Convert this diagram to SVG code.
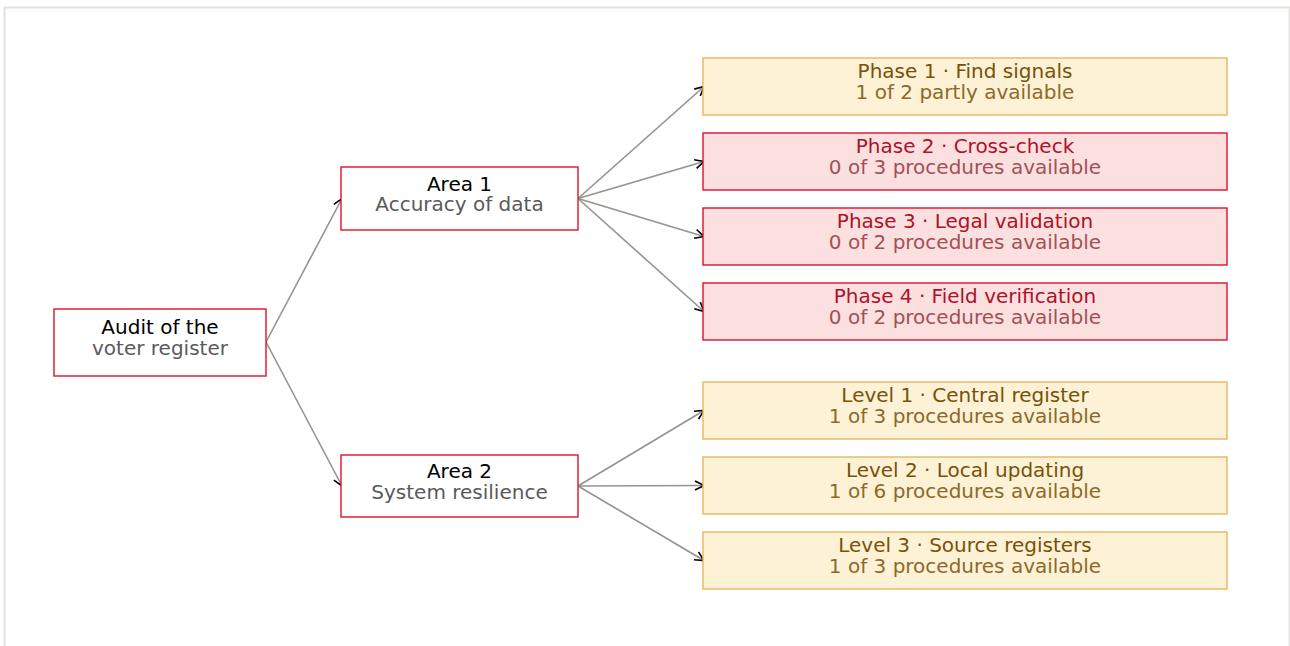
<svg xmlns="http://www.w3.org/2000/svg" width="1290" height="646" viewBox="0 0 1290 646">
<style>
text{font-family:"DejaVu Sans",sans-serif;font-size:20px;text-anchor:middle}
.n{fill:#fff;stroke:#e0102e;stroke-width:1.4}
.r{fill:#fbe0df;stroke:#e0102e;stroke-width:1.4}
.y{fill:#fdf1d6;stroke:#e6b75e;stroke-width:1.4}
.t0{fill:#000}.s0{fill:#5a5a5a}
.tr{fill:#b0102a}.sr{fill:#a35058}
.ty{fill:#7a5206}.sy{fill:#8c6a2a}
.e{fill:none;stroke:#94938c;stroke-width:1.6;marker-end:url(#a)}
</style>
<defs>
<marker id="a" viewBox="0 0 12 12" refX="11" refY="6" markerWidth="12" markerHeight="12" markerUnits="userSpaceOnUse" orient="auto">
<path d="M2,1.5 L11,6 L2,10.5" fill="none" stroke="#000" stroke-width="1.6"/>
</marker>
</defs>
<rect x="4.5" y="7.5" width="1285" height="660" fill="#fff" stroke="#e2e2de" stroke-width="2"/>
<g id="edges">
<line class="e" x1="266" y1="342" x2="342" y2="198.5"/>
<line class="e" x1="266" y1="342" x2="342" y2="486"/>
<line class="e" x1="578" y1="198.5" x2="704" y2="86.5"/>
<line class="e" x1="578" y1="198.5" x2="704" y2="161.5"/>
<line class="e" x1="578" y1="198.5" x2="704" y2="236.5"/>
<line class="e" x1="578" y1="198.5" x2="704" y2="311.5"/>
<line class="e" x1="578" y1="486" x2="704" y2="410.5"/>
<line class="e" x1="578" y1="486" x2="704" y2="485.5"/>
<line class="e" x1="578" y1="486" x2="704" y2="560.5"/>
</g>
<g id="root"><rect class="n" x="54" y="309" width="212" height="67"/><text class="t0" x="160" y="334">Audit of the</text><text class="s0" x="160" y="355">voter register</text></g>
<g id="area1"><rect class="n" x="341" y="167" width="237" height="63"/><text class="t0" x="459.5" y="190.5">Area 1</text><text class="s0" x="459.5" y="211">Accuracy of data</text></g>
<g id="area2"><rect class="n" x="341" y="455" width="237" height="62"/><text class="t0" x="459.5" y="478">Area 2</text><text class="s0" x="459.5" y="498.5">System resilience</text></g>
<g id="phase1"><rect class="y" x="703" y="58" width="524" height="57"/><text class="ty" x="965" y="78">Phase 1 · Find signals</text><text class="sy" x="965" y="99">1 of 2 partly available</text></g>
<g id="phase2"><rect class="r" x="703" y="133" width="524" height="57"/><text class="tr" x="965" y="153">Phase 2 · Cross-check</text><text class="sr" x="965" y="174">0 of 3 procedures available</text></g>
<g id="phase3"><rect class="r" x="703" y="208" width="524" height="57"/><text class="tr" x="965" y="228">Phase 3 · Legal validation</text><text class="sr" x="965" y="249">0 of 2 procedures available</text></g>
<g id="phase4"><rect class="r" x="703" y="283" width="524" height="57"/><text class="tr" x="965" y="303">Phase 4 · Field verification</text><text class="sr" x="965" y="324">0 of 2 procedures available</text></g>
<g id="level1"><rect class="y" x="703" y="382" width="524" height="57"/><text class="ty" x="965" y="402">Level 1 · Central register</text><text class="sy" x="965" y="423">1 of 3 procedures available</text></g>
<g id="level2"><rect class="y" x="703" y="457" width="524" height="57"/><text class="ty" x="965" y="477">Level 2 · Local updating</text><text class="sy" x="965" y="498">1 of 6 procedures available</text></g>
<g id="level3"><rect class="y" x="703" y="532" width="524" height="57"/><text class="ty" x="965" y="552">Level 3 · Source registers</text><text class="sy" x="965" y="573">1 of 3 procedures available</text></g>
</svg>
